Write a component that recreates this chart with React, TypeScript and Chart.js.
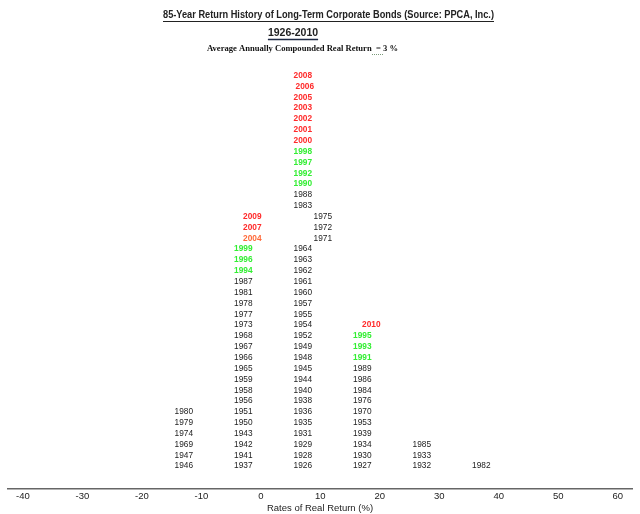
import { useEffect, useRef } from "react";
import { Chart, registerables } from "chart.js";

Chart.register(...registerables);

// centre of each 10-point bin of real return (%)
const binCenters = [-15, -5, 5, 15, 25, 35];

// years falling in each bin, bottom of the stack first
const yearsMinus20to10 = [1946, 1947, 1969, 1974, 1979, 1980];
const yearsMinus10to0 = [
  1937, 1941, 1942, 1943, 1950, 1951, 1956, 1958, 1959, 1965, 1966, 1967,
  1968, 1973, 1977, 1978, 1981, 1987, 1994, 1996, 1999, 2004, 2007, 2009,
];
const years0to10 = [
  1926, 1928, 1929, 1931, 1935, 1936, 1938, 1940, 1944, 1945, 1948, 1949,
  1952, 1954, 1955, 1957, 1960, 1961, 1962, 1963, 1964, 1971, 1972, 1975,
  1983, 1988, 1990, 1992, 1997, 1998, 2000, 2001, 2002, 2003, 2005, 2006, 2008,
];
const years10to20 = [
  1927, 1930, 1934, 1939, 1953, 1970, 1976, 1984, 1986, 1989, 1991, 1993, 1995, 2010,
];
const years20to30 = [1932, 1933, 1985];
const years30to40 = [1982];

const xTicks = [-40, -30, -20, -10, 0, 10, 20, 30, 40, 50, 60];

const bins = [yearsMinus20to10, yearsMinus10to0, years0to10, years10to20, years20to30, years30to40];

// small sideways shifts of some labels, as in the original layout (px)
const nudge: Record<number, number> = {
  2004: 9, 2007: 9, 2009: 9, 1971: 20, 1972: 20, 1975: 20, 2010: 9, 2006: 2,
};

const sans = "'Liberation Sans', Arial, sans-serif";

function yearColor(y: number) {
  if (y === 2004) return "#ff6a3a";
  if (y >= 2000) return "#ff2a2a";
  if (y >= 1990) return "#33ee33";
  return "#222222";
}

const yearLabels = {
  id: "yearLabels",
  afterDatasetsDraw(chart: any) {
    const { ctx } = chart;
    const xs = chart.scales.x;
    const ys = chart.scales.y;
    ctx.save();
    ctx.textAlign = "left";
    ctx.textBaseline = "middle";
    chart.data.datasets.forEach((ds: any) => {
      ds.data.forEach((p: any) => {
        const px = xs.getPixelForValue(p.x) + 3 + (nudge[p.year] || 0);
        const py = ys.getPixelForValue(p.y);
        const colored = p.year >= 1990;
        ctx.font = (colored ? "bold " : "") + "9px " + sans;
        ctx.fillStyle = yearColor(p.year);
        ctx.fillText(String(p.year), px, py, 18.5);
      });
    });
    ctx.restore();
  },
};

const headings = {
  id: "headings",
  afterDraw(chart: any) {
    const { ctx } = chart;
    ctx.save();
    ctx.textAlign = "center";
    ctx.textBaseline = "middle";
    ctx.fillStyle = "#222";
    ctx.strokeStyle = "#222";

    const t1 = "85-Year Return History of Long-Term Corporate Bonds (Source: PPCA, Inc.)";
    ctx.font = "bold 10.5px " + sans;
    const w1 = Math.min(ctx.measureText(t1).width, 331);
    ctx.fillText(t1, 328.5, 15, 331);
    ctx.lineWidth = 1;
    ctx.beginPath();
    ctx.moveTo(328.5 - w1 / 2, 21.5);
    ctx.lineTo(328.5 + w1 / 2, 21.5);
    ctx.stroke();

    const t2 = "1926-2010";
    ctx.font = "bold 10.5px " + sans;
    const w2 = ctx.measureText(t2).width;
    ctx.fillText(t2, 293, 33);
    ctx.strokeStyle = "#1f2a44";
    ctx.lineWidth = 1.5;
    ctx.beginPath();
    ctx.moveTo(293 - w2 / 2, 39.5);
    ctx.lineTo(293 + w2 / 2, 39.5);
    ctx.stroke();

    const t3 = "Average Annually Compounded Real Return  = 3 %";
    ctx.font = "bold 9px 'Liberation Serif', 'Times New Roman', serif";
    ctx.fillStyle = "#111";
    ctx.fillText(t3, 302.5, 49, 191);
    ctx.strokeStyle = "#7a9a7a";
    ctx.lineWidth = 1;
    ctx.setLineDash([1, 1]);
    ctx.beginPath();
    ctx.moveTo(372, 54.5);
    ctx.lineTo(383, 54.5);
    ctx.stroke();
    ctx.restore();
  },
};

export default function App() {
  const canvasRef = useRef<HTMLCanvasElement | null>(null);

  useEffect(() => {
    if (!canvasRef.current) return;
    const datasets = bins.map((years, i) => ({
      label: String(binCenters[i]),
      data: years.map((year, k) => ({ x: binCenters[i], y: k, year })),
      pointRadius: 0,
      pointHoverRadius: 0,
      showLine: false,
    }));

    const chart = new Chart(canvasRef.current, {
      type: "scatter",
      data: { datasets },
      options: {
        animation: false,
        responsive: true,
        maintainAspectRatio: false,
        layout: { padding: { left: 8, right: 8, top: 32, bottom: 0 } },
        plugins: {
          legend: { display: false },
          tooltip: { enabled: false },
        },
        scales: {
          x: {
            type: "linear",
            min: -42.5,
            max: 62.4,
            afterBuildTicks: (scale: any) => {
              scale.ticks = xTicks.map((v) => ({ value: v }));
            },
            grid: { display: false, drawTicks: false, tickLength: 0 },
            border: { display: true, color: "#666", width: 1.5 },
            ticks: {
              padding: 1,
              color: "#222",
              font: { size: 9.5, family: sans },
              autoSkip: false,
              maxRotation: 0,
            },
            title: {
              display: true,
              text: "Rates of Real Return (%)",
              color: "#222",
              font: { size: 9.5, family: sans },
              padding: 0,
            },
          },
          y: {
            display: false,
            min: -2.14,
            max: 40,
          },
        },
      },
      plugins: [yearLabels, headings],
    });

    return () => chart.destroy();
  }, []);

  return (
    <div style={{ position: "fixed", left: 0, top: 0, width: 640, height: 514, background: "#fff" }}>
      <canvas ref={canvasRef} />
    </div>
  );
}
